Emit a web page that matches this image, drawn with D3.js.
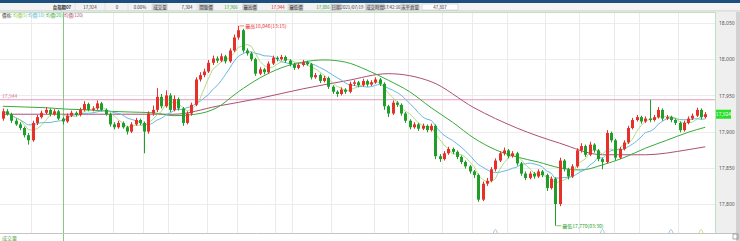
<!DOCTYPE html>
<html>
<head>
<meta charset="utf-8">
<script src="https://cdnjs.cloudflare.com/ajax/libs/d3/7.8.5/d3.min.js"></script>
<style>
  body { margin: 0; background: #fff; }
  svg { display: block; font-family: "Noto Sans CJK TC", "Noto Sans", sans-serif; }
</style>
</head>
<body>
<div id="chart"></div>
<script>
// candles (left to right)
var opens = [17918,17928,17924,17915,17910,17905,17895,17888,17912,17920,
  17926,17930,17924,17928,17918,17914,17922,17926,17923,17930,
  17938,17930,17932,17939,17930,17924,17910,17906,17912,17906,
  17900,17910,17916,17912,17900,17925,17930,17948,17935,17950,
  17930,17945,17932,17912,17925,17937,17972,17978,17983,17995,
  18001,17998,18004,17997,18012,18030,18040,18012,18008,18000,
  17980,17986,17982,17994,18002,18000,18003,17998,17993,17988,
  17992,17996,17993,17975,17978,17970,17974,17962,17955,17952,
  17958,17955,17966,17968,17964,17970,17965,17968,17972,17966,
  17935,17925,17940,17937,17925,17915,17906,17910,17904,17908,
  17902,17908,17866,17862,17870,17876,17872,17865,17858,17852,
  17845,17840,17806,17828,17832,17848,17860,17870,17874,17866,
  17870,17856,17842,17836,17842,17838,17845,17840,17822,17835,
  17800,17860,17848,17838,17852,17874,17880,17868,17882,17874,
  17862,17858,17898,17888,17864,17876,17885,17905,17916,17920,
  17914,17918,17916,17920,17930,17918,17920,17916,17912,17902,
  17912,17918,17922,17930,17920];
var highs = [17932,17931,17926,17918,17913,17907,17898,17915,17923,17929,
  17934,17932,17931,17930,17920,17925,17929,17928,17933,17942,
  17940,17935,17943,17941,17932,17926,17913,17915,17914,17908,
  17913,17919,17918,17914,17928,17936,17960,17952,17957,17953,
  17950,17947,17934,17928,17940,17975,17982,17987,17999,18005,
  18004,18008,18006,18015,18034,18046,18042,18015,18010,18002,
  17989,17988,17997,18005,18004,18006,18005,18000,17995,17995,
  17999,17998,17995,17981,17980,17977,17976,17964,17957,17961,
  17960,17969,17971,17970,17973,17972,17971,17975,17974,17968,
  17937,17943,17942,17939,17927,17917,17913,17912,17911,17910,
  17911,17910,17869,17873,17879,17878,17874,17867,17860,17854,
  17847,17842,17831,17836,17851,17863,17873,17878,17876,17873,
  17872,17858,17845,17845,17844,17848,17847,17842,17838,17837,
  17864,17862,17850,17855,17877,17884,17882,17886,17884,17876,
  17864,17902,17900,17890,17879,17888,17908,17919,17923,17922,
  17921,17944,17923,17934,17932,17923,17922,17918,17914,17915,
  17921,17925,17933,17932,17927];
var lows = [17915,17922,17912,17908,17902,17892,17882,17886,17909,17918,
  17924,17921,17922,17916,17910,17912,17920,17921,17921,17928,
  17928,17928,17930,17928,17922,17907,17903,17904,17904,17896,
  17898,17908,17909,17870,17897,17922,17927,17932,17933,17927,
  17928,17929,17908,17910,17922,17935,17969,17975,17981,17992,
  17995,17996,17994,17995,18010,18027,18009,18005,17997,17977,
  17978,17979,17980,17992,17997,17998,17995,17990,17985,17986,
  17990,17991,17972,17973,17967,17968,17959,17952,17948,17950,
  17952,17953,17963,17961,17962,17962,17963,17966,17963,17930,
  17920,17923,17934,17922,17912,17903,17904,17901,17902,17899,
  17900,17862,17858,17860,17868,17869,17862,17855,17849,17842,
  17836,17803,17804,17825,17830,17845,17858,17867,17863,17864,
  17853,17839,17833,17834,17835,17836,17837,17818,17820,17770,
  17797,17845,17834,17836,17850,17871,17865,17866,17871,17859,
  17848,17856,17885,17860,17862,17874,17883,17903,17914,17911,
  17912,17913,17914,17918,17915,17916,17913,17909,17899,17900,
  17910,17916,17920,17917,17918];
var closes = [17928,17924,17915,17910,17905,17895,17888,17912,17920,17926,
  17930,17924,17928,17918,17914,17922,17926,17923,17930,17938,
  17930,17932,17939,17930,17924,17910,17906,17912,17906,17900,
  17910,17916,17912,17900,17925,17930,17948,17935,17950,17930,
  17945,17932,17912,17925,17937,17972,17978,17983,17995,18001,
  17998,18004,17997,18012,18030,18040,18012,18008,18000,17980,
  17986,17982,17994,18002,18000,18003,17998,17993,17988,17992,
  17996,17993,17975,17978,17970,17974,17962,17955,17952,17958,
  17955,17966,17968,17964,17970,17965,17968,17972,17966,17935,
  17925,17940,17937,17925,17915,17906,17910,17904,17908,17902,
  17908,17866,17862,17870,17876,17872,17865,17858,17852,17845,
  17840,17806,17828,17832,17848,17860,17870,17874,17866,17870,
  17856,17842,17836,17842,17838,17845,17840,17822,17835,17800,
  17860,17848,17838,17852,17874,17880,17868,17882,17874,17862,
  17858,17898,17888,17864,17876,17885,17905,17916,17920,17914,
  17918,17916,17920,17930,17918,17920,17916,17912,17902,17912,
  17918,17922,17930,17920,17924];

// longer averages at sample candles
var ma20Idx = [0,5,10,15,20,25,30,35,40,45,50,55,60,65,70,75,80,85,90,95,100,
  105,110,115,120,125,130,135,140,145,150,155,160,164];
var ma20Vals = [17935,17934,17933,17931,17930,17928,17927,17926,17922,17924,17933,
  17955,17974,17988,17996,17999,17996,17985,17971,17955,17933,
  17913,17891,17875,17865,17858,17850,17847,17854,17864,17877,17888,17899,17906];
var ma120Idx = [0,10,20,30,40,50,60,70,80,90,100,110,120,130,140,150,160,164];
var ma120Vals = [17924,17924,17924,17924,17924,17935,17946,17959,17970,17980,
  17969,17933,17905,17884,17868,17868,17875,17879];

var yTicks = [17800, 17850, 17900, 17950, 18000, 18050];
var refLine = 17944;
var lastPrice = 17924;
var highTime = "13:15", lowTime = "03:30";
var gridIdx = [7, 26, 33, 39, 48, 55, 64, 68, 77, 87, 95, 103, 110, 118, 127, 135, 143, 149, 158];
var sessionIdx = 14;
var markIdx = [115, 140, 156, 163];

var legendTexts = ["價格:", "均價(5)", "均價(10)", "均價(20)", "均價(120)"];
var headerTexts = ["台指期07", "17,924", "0", "0.00%", "成交量", "7,304", "開盤價", "17,906",
  "最高價", "17,944", "最低價", "17,886", "日期", "2021/07/19", "成交時間", "17:42:16",
  "未平倉量", "47,807"];

var fmt = d3.format(",");
var W = 740, H = 241;
var up = "#e8302a", down = "#1f9e2a";

var svg = d3.select("#chart").append("svg")
    .attr("width", W)
    .attr("height", H);

// top toolbar strip and header row
svg.append("rect").attr("x", 0).attr("y", 0).attr("width", W).attr("height", 3).attr("fill", "#1d4f7e");
svg.append("rect").attr("x", 0).attr("y", 3).attr("width", W).attr("height", 8).attr("fill", "#f3f3f3");
svg.append("line").attr("x1", 0).attr("x2", W).attr("y1", 11).attr("y2", 11).attr("stroke", "#c8c8c8");

var headX = [62, 90, 117, 140, 160, 187, 206, 231, 250, 278, 296, 323, 336, 352, 375, 392, 410, 440];
var headKind = ["b", "v", "v", "v", "l", "v", "l", "g", "l", "r", "l", "g", "l", "v", "l", "v", "l", "w"];
headerTexts.forEach(function(t, i){
  var k = headKind[i];
  if (k === "l" || k === "w") {
    var w = k === "w" ? 36 : Math.max(9, t.length * 4.2 + 1.5);
    svg.append("rect")
      .attr("x", headX[i] - w / 2).attr("y", 4).attr("width", w).attr("height", 6)
      .attr("fill", k === "l" ? "#d6d6d6" : "#ffffff")
      .attr("stroke", "#b8b8b8").attr("stroke-width", 0.5);
  }
  svg.append("text")
    .attr("x", headX[i]).attr("y", 8.8)
    .attr("text-anchor", "middle")
    .attr("font-size", 4.4)
    .attr("font-weight", k === "b" ? "bold" : "normal")
    .attr("fill", k === "g" ? "#2a9e2a" : k === "r" ? "#e02020" : "#333")
    .text(t);
});
[75, 105, 128, 152, 197, 243, 288, 331, 366, 403].forEach(function(sx){
  svg.append("line").attr("x1", sx).attr("x2", sx).attr("y1", 3).attr("y2", 11)
    .attr("stroke", "#cfcfcf").attr("stroke-width", 0.5);
});

// scales
var x = d3.scaleBand()
    .domain(d3.range(closes.length))
    .range([0, 708])
    .padding(0.28);
var y = d3.scaleLinear()
    .domain([17800, 18050])
    .range([204, 23]);
function cx(i){ return x(i) + x.bandwidth() / 2; }

var plotTop = 12, plotBottom = 233, plotRight = 715;

// grid
var grid = svg.append("g");
grid.selectAll(".hg").data(yTicks).enter().append("line")
    .attr("x1", 0).attr("x2", plotRight)
    .attr("y1", function(d){ return Math.round(y(d)) + 0.5; })
    .attr("y2", function(d){ return Math.round(y(d)) + 0.5; })
    .attr("stroke", "#ececec");
grid.selectAll(".vg").data(gridIdx).enter().append("line")
    .attr("x1", function(d){ return Math.round(x(d)) + 0.5; })
    .attr("x2", function(d){ return Math.round(x(d)) + 0.5; })
    .attr("y1", plotTop).attr("y2", plotBottom)
    .attr("stroke", "#ebebeb");
svg.append("line")
    .attr("x1", 0).attr("x2", plotRight).attr("y1", plotTop + 0.5).attr("y2", plotTop + 0.5)
    .attr("stroke", "#bfe0bf");
svg.append("line")
    .attr("x1", Math.round(cx(sessionIdx)) + 0.5).attr("x2", Math.round(cx(sessionIdx)) + 0.5)
    .attr("y1", plotTop).attr("y2", H)
    .attr("stroke", "#86c986");

// reference price line
svg.append("line")
    .attr("x1", 0).attr("x2", plotRight)
    .attr("y1", y(refLine)).attr("y2", y(refLine))
    .attr("stroke", "#e59bbd");
svg.append("text")
    .attr("x", 2).attr("y", y(refLine) - 2)
    .attr("font-size", 5).attr("fill", "#e07aa8")
    .text(fmt(refLine));

// legend
var legColors = ["#333", "#8cc63e", "#58b4dc", "#3aaa3a", "#b0507a"];
var legX = [2, 13, 28, 46, 64];
legendTexts.forEach(function(t, i){
  svg.append("text")
    .attr("x", legX[i]).attr("y", 17)
    .attr("font-size", 4.4)
    .attr("fill", legColors[i])
    .text(t);
});

// moving averages
function rolling(n){
  return closes.map(function(c, i){ return d3.mean(closes.slice(Math.max(0, i - n + 1), i + 1)); });
}
var ma5 = rolling(5), ma10 = rolling(10);

var lineIdx = d3.line()
    .x(function(d){ return cx(d[0]); })
    .y(function(d){ return y(d[1]); });

svg.append("path")
    .datum(ma120Idx.map(function(d, i){ return [d, ma120Vals[i]]; }))
    .attr("d", lineIdx.curve(d3.curveMonotoneX))
    .attr("fill", "none").attr("stroke", "#ad4f78").attr("stroke-width", 1);
svg.append("path")
    .datum(ma20Idx.map(function(d, i){ return [d, ma20Vals[i]]; }))
    .attr("d", lineIdx.curve(d3.curveMonotoneX))
    .attr("fill", "none").attr("stroke", "#3aaa3a").attr("stroke-width", 1);
svg.append("path")
    .datum(ma10.map(function(v, i){ return [i, v]; }))
    .attr("d", lineIdx.curve(d3.curveMonotoneX))
    .attr("fill", "none").attr("stroke", "#66b8e2").attr("stroke-width", 1);
svg.append("path")
    .datum(ma5.map(function(v, i){ return [i, v]; }))
    .attr("d", lineIdx.curve(d3.curveLinear))
    .attr("fill", "none").attr("stroke", "#9fd36a").attr("stroke-width", 0.8);

// candles
var candles = svg.append("g").selectAll("g")
    .data(closes.map(function(c, i){ return {i: i, o: opens[i], h: highs[i], l: lows[i], c: c}; }))
    .enter().append("g");
candles.append("line")
    .attr("x1", function(d){ return Math.round(cx(d.i)) + 0.5; })
    .attr("x2", function(d){ return Math.round(cx(d.i)) + 0.5; })
    .attr("y1", function(d){ return y(d.h); })
    .attr("y2", function(d){ return y(d.l); })
    .attr("stroke", function(d){ return d.c >= d.o ? up : down; })
    .attr("stroke-width", 1);
candles.append("rect")
    .attr("x", function(d){ return Math.round(cx(d.i)) + 0.5 - 1.5; })
    .attr("width", 3)
    .attr("y", function(d){ return y(Math.max(d.o, d.c)); })
    .attr("height", function(d){ return Math.max(1, Math.abs(y(d.o) - y(d.c))); })
    .attr("fill", function(d){ return d.c >= d.o ? up : down; });

// high / low notes
var hiI = d3.maxIndex(highs), loI = d3.minIndex(lows);
svg.append("line")
    .attr("x1", cx(hiI) + 1).attr("x2", cx(hiI) + 6)
    .attr("y1", y(highs[hiI])).attr("y2", y(highs[hiI]))
    .attr("stroke", up).attr("stroke-width", 0.6);
svg.append("text")
    .attr("x", cx(hiI) + 7).attr("y", y(highs[hiI]) + 1.8)
    .attr("font-size", 5).attr("fill", up)
    .text("最高" + fmt(highs[hiI]) + "(" + highTime + ")");
svg.append("line")
    .attr("x1", cx(loI) + 1).attr("x2", cx(loI) + 6)
    .attr("y1", y(lows[loI])).attr("y2", y(lows[loI]))
    .attr("stroke", down).attr("stroke-width", 0.6);
svg.append("text")
    .attr("x", cx(loI) + 7).attr("y", y(lows[loI]) + 1.8)
    .attr("font-size", 5).attr("fill", down)
    .text("最低" + fmt(lows[loI]) + "(" + lowTime + ")");

// little markers at the bottom
var markColors = ["#7fb2dc", "#7fb2dc", "#7fb2dc", "#d6c552"];
markIdx.forEach(function(d, i){
  svg.append("path")
    .attr("d", "M" + (cx(d) - 2) + "," + 233 + " Q" + cx(d) + "," + 226 + " " + (cx(d) + 2) + "," + 233)
    .attr("fill", "none").attr("stroke", markColors[i]).attr("stroke-width", 0.7);
});

// bottom strip
svg.append("line").attr("x1", 0).attr("x2", W).attr("y1", plotBottom + 0.5).attr("y2", plotBottom + 0.5)
    .attr("stroke", "#c4c4c4");
svg.append("text").attr("x", 2).attr("y", 239.5).attr("font-size", 5).attr("fill", "#5aa64a").text("成交量");

// right axis panel
svg.append("rect").attr("x", plotRight).attr("y", plotTop).attr("width", W - plotRight).attr("height", plotBottom - plotTop)
    .attr("fill", "#efefef");
svg.append("rect").attr("x", 736).attr("y", plotTop).attr("width", 4).attr("height", H - plotTop)
    .attr("fill", "#d2d2d2");
svg.append("line").attr("x1", plotRight + 0.5).attr("x2", plotRight + 0.5).attr("y1", plotTop).attr("y2", plotBottom)
    .attr("stroke", "#bfe0bf");

var axis = d3.axisRight(y).tickValues(yTicks).tickFormat(fmt).tickSize(0).tickPadding(0);
var ag = svg.append("g").attr("transform", "translate(" + (plotRight + 4) + ",0)").call(axis);
ag.select(".domain").remove();
ag.selectAll("text").attr("font-size", 5).attr("fill", "#555").attr("font-family", "Noto Sans, sans-serif");

svg.append("rect")
    .attr("x", plotRight + 1).attr("y", y(lastPrice) - 4.5)
    .attr("width", 15).attr("height", 9)
    .attr("fill", "#27e027");
svg.append("text")
    .attr("x", plotRight + 8.5).attr("y", y(lastPrice) + 1.8)
    .attr("text-anchor", "middle").attr("font-size", 5).attr("fill", "#ffffff")
    .text(fmt(lastPrice));

svg.append("rect").attr("x", 733).attr("y", 234).attr("width", 5).attr("height", 5)
    .attr("fill", "none").attr("stroke", "#777").attr("stroke-width", 0.6);
</script>
</body>
</html>
